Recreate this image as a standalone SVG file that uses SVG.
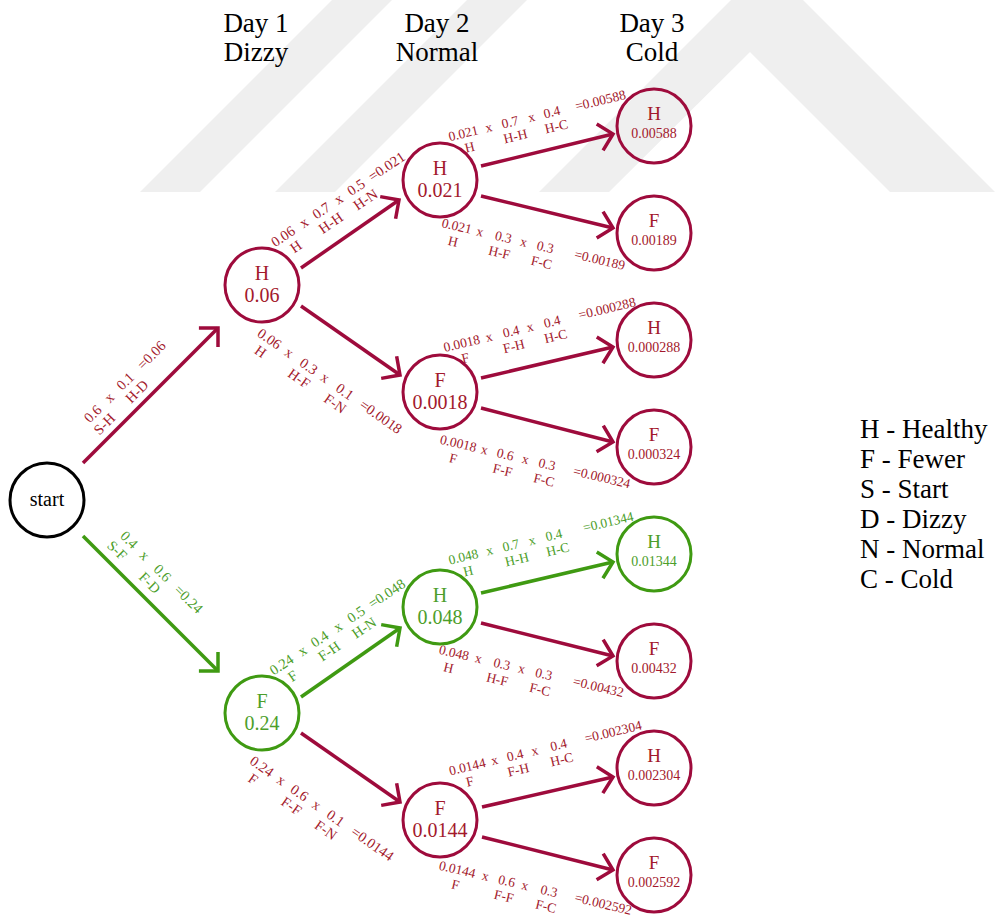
<svg xmlns="http://www.w3.org/2000/svg" width="995" height="916" viewBox="0 0 995 916">
<style>
text{font-family:"Liberation Serif","Times New Roman",serif}
.n{fill:none;stroke-width:3}
.nr{stroke:#9e0b3c}.ng{stroke:#3f9a12}.nk{stroke:#000}
.tr{fill:#a3192c}.tg{fill:#4c9e2a}
.big{font-size:20px;text-anchor:middle}
.l3{font-size:19px;text-anchor:middle}
.s3{font-size:14px;text-anchor:middle}
.hd{font-size:27px;text-anchor:middle;fill:#000}
.lg{font-size:27px;fill:#000}
.e{fill:none;stroke-width:3.5}
.er{stroke:#9e0b3c;marker-end:url(#mr)}
.eg{stroke:#3f9a12;marker-end:url(#mg)}
.a text{text-anchor:middle}
.f13{font-size:14.5px}.f12{font-size:13.5px}
.wm{fill:#efefef}
</style>
<defs>
<marker id="mr" viewBox="-16 -16 20 32" markerWidth="20" markerHeight="32" refX="0" refY="0" orient="auto" markerUnits="userSpaceOnUse" overflow="visible"><path d="M-13.5,-13.5 L0,0 L-13.5,13.5" fill="none" stroke="#9e0b3c" stroke-width="3.5"/></marker>
<marker id="mg" viewBox="-16 -16 20 32" markerWidth="20" markerHeight="32" refX="0" refY="0" orient="auto" markerUnits="userSpaceOnUse" overflow="visible"><path d="M-13.5,-13.5 L0,0 L-13.5,13.5" fill="none" stroke="#3f9a12" stroke-width="3.5"/></marker>
</defs>
<rect width="995" height="916" fill="#fff"/>
<g id="watermark">
<polygon class="wm" points="140,192 200,192 392,0 332,0"/>
<polygon class="wm" points="275,192 335,192 527,0 467,0"/>
<polygon class="wm" points="539,192 731,0 803,0 995,192 890,192 750,52 609,192"/>
</g>
<g id="headers">
<text class="hd" x="256" y="32">Day 1</text><text class="hd" x="256" y="61">Dizzy</text>
<text class="hd" x="437" y="32">Day 2</text><text class="hd" x="437" y="61">Normal</text>
<text class="hd" x="652" y="32">Day 3</text><text class="hd" x="652" y="61">Cold</text>
</g>
<g id="connectors">
<line class="e er" x1="83" y1="463" x2="218" y2="328"/>
<line class="e eg" x1="83" y1="536" x2="218" y2="671"/>
<line class="e er" x1="301" y1="268" x2="399" y2="200"/>
<line class="e er" x1="301" y1="306" x2="400" y2="375"/>
<line class="e eg" x1="301" y1="697" x2="400" y2="628"/>
<line class="e er" x1="301" y1="733" x2="400" y2="802"/>
<line class="e er" x1="481" y1="166" x2="613" y2="134"/>
<line class="e er" x1="481" y1="196" x2="613" y2="228"/>
<line class="e er" x1="481" y1="378" x2="613" y2="347"/>
<line class="e er" x1="481" y1="408" x2="613" y2="442"/>
<line class="e eg" x1="481" y1="593" x2="613" y2="562"/>
<line class="e er" x1="481" y1="623" x2="613" y2="656"/>
<line class="e er" x1="482" y1="807" x2="613" y2="777"/>
<line class="e er" x1="482" y1="837" x2="613" y2="870"/>
</g>
<g id="edge-labels">
<g class="a f13 tr" transform="translate(96.2,417.2) rotate(-45)"><text x="0">0.6</text><text x="23">x</text><text x="46">0.1</text><text x="83">=0.06</text><text x="1" y="15.5">S-H</text><text x="47" y="15.5">H-D</text></g>
<g class="a f13 tg" transform="translate(125.8,543.2) rotate(45)"><text x="0">0.4</text><text x="22">x</text><text x="47">0.6</text><text x="84">=0.24</text><text x="-1" y="16">S-F</text><text x="45" y="16">F-D</text></g>
<g class="a f13 tr" transform="translate(285.8,240.4) rotate(-34)"><text x="0">0.06</text><text x="25">x</text><text x="46">0.7</text><text x="67">x</text><text x="88">0.5</text><text x="125">=0.021</text><text x="5" y="15.5">H</text><text x="47" y="15.5">H-H</text><text x="89" y="15.5">H-N</text></g>
<g class="a f13 tr" transform="translate(266.7,342.7) rotate(35)"><text x="0">0.06</text><text x="24">x</text><text x="48">0.3</text><text x="68">x</text><text x="92">0.1</text><text x="136">=0.0018</text><text x="0" y="15.5">H</text><text x="47" y="15.5">H-F</text><text x="91" y="15.5">F-N</text></g>
<g class="a f13 tg" transform="translate(284.2,668.7) rotate(-34)"><text x="0">0.24</text><text x="25">x</text><text x="46">0.4</text><text x="68">x</text><text x="90">0.5</text><text x="127">=0.048</text><text x="3" y="15.5">F</text><text x="47" y="15.5">F-H</text><text x="89" y="15.5">H-N</text></g>
<g class="a f13 tr" transform="translate(259.1,770.4) rotate(35)"><text x="0">0.24</text><text x="24">x</text><text x="46">0.6</text><text x="67">x</text><text x="90">0.1</text><text x="135">=0.0144</text><text x="0" y="15.5">F</text><text x="47" y="15.5">F-F</text><text x="89" y="15.5">F-N</text></g>
<g class="a f12 tr" transform="translate(464.4,137.7) rotate(-13.5)"><text x="0">0.021</text><text x="26">x</text><text x="48">0.7</text><text x="70">x</text><text x="91">0.4</text><text x="141">=0.00588</text><text x="3" y="15">H</text><text x="50" y="15">H-H</text><text x="92" y="15">H-C</text></g>
<g class="a f12 tr" transform="translate(455.7,230.4) rotate(13.3)"><text x="0">0.021</text><text x="24">x</text><text x="48">0.3</text><text x="69">x</text><text x="91">0.3</text><text x="147">=0.00189</text><text x="0" y="16">H</text><text x="47.5" y="16">H-F</text><text x="91" y="16">F-C</text></g>
<g class="a f12 tr" transform="translate(462.8,347.7) rotate(-13.5)"><text x="0">0.0018</text><text x="28">x</text><text x="50.7">0.4</text><text x="70.3">x</text><text x="93">0.4</text><text x="149.5">=0.000288</text><text x="0" y="15">F</text><text x="50" y="15">F-H</text><text x="93" y="15">H-C</text></g>
<g class="a f12 tr" transform="translate(457.3,447.7) rotate(13.3)"><text x="0">0.0018</text><text x="27">x</text><text x="48.3">0.6</text><text x="69.1">x</text><text x="91.2">0.3</text><text x="147.5">=0.000324</text><text x="-1.4" y="16">F</text><text x="49.3" y="16">F-F</text><text x="91.8" y="16">F-C</text></g>
<g class="a f12 tg" transform="translate(464.4,561.1) rotate(-13.5)"><text x="0">0.048</text><text x="27">x</text><text x="48.9">0.7</text><text x="70.5">x</text><text x="93">0.4</text><text x="149">=0.01344</text><text x="1.3" y="15">H</text><text x="51.5" y="15">H-H</text><text x="93.4" y="15">H-C</text></g>
<g class="a f12 tr" transform="translate(453,657.1) rotate(13.3)"><text x="0">0.048</text><text x="25.1">x</text><text x="49.2">0.3</text><text x="69.7">x</text><text x="92.3">0.3</text><text x="148.4">=0.00432</text><text x="-1.9" y="16">H</text><text x="48.2" y="16">H-F</text><text x="92.1" y="16">F-C</text></g>
<g class="a f12 tr" transform="translate(468.4,771.1) rotate(-13.5)"><text x="0">0.0144</text><text x="28">x</text><text x="49.2">0.4</text><text x="69.4">x</text><text x="93.9">0.4</text><text x="150">=0.002304</text><text x="-1" y="15">F</text><text x="48.8" y="15">F-H</text><text x="93.4" y="15">H-C</text></g>
<g class="a f12 tr" transform="translate(456.3,873.7) rotate(13.3)"><text x="0">0.0144</text><text x="28.9">x</text><text x="50.8">0.6</text><text x="69.7">x</text><text x="94.3">0.3</text><text x="150">=0.002592</text><text x="1.6" y="15.5">F</text><text x="51.5" y="15.5">F-F</text><text x="94.7" y="15.5">F-C</text></g>
</g>
<g id="node-start"><circle class="n nk" cx="47" cy="500" r="37"/><text x="47" y="506" font-size="20" text-anchor="middle" fill="#000">start</text></g>
<g id="node-d1-H"><circle class="n nr" cx="262" cy="285" r="37"/><text class="big tr" x="262" y="279.5">H</text><text class="big tr" x="262" y="302">0.06</text></g>
<g id="node-d1-F"><circle class="n ng" cx="262" cy="713" r="37"/><text class="big tg" x="262" y="707.5">F</text><text class="big tg" x="262" y="730">0.24</text></g>
<g id="node-d2-HH"><circle class="n nr" cx="440" cy="180" r="37"/><text class="big tr" x="440" y="174.5">H</text><text class="big tr" x="440" y="197">0.021</text></g>
<g id="node-d2-HF"><circle class="n nr" cx="440" cy="392" r="37"/><text class="big tr" x="440" y="386.5">F</text><text class="big tr" x="440" y="409">0.0018</text></g>
<g id="node-d2-FH"><circle class="n ng" cx="440" cy="607" r="37"/><text class="big tg" x="440" y="601.5">H</text><text class="big tg" x="440" y="624">0.048</text></g>
<g id="node-d2-FF"><circle class="n nr" cx="440" cy="820" r="37"/><text class="big tr" x="440" y="814.5">F</text><text class="big tr" x="440" y="837">0.0144</text></g>
<g id="node-d3-1"><circle class="n nr" cx="654" cy="126" r="37"/><text class="l3 tr" x="654" y="120">H</text><text class="s3 tr" x="654" y="137.5">0.00588</text></g>
<g id="node-d3-2"><circle class="n nr" cx="654" cy="233" r="37"/><text class="l3 tr" x="654" y="227">F</text><text class="s3 tr" x="654" y="244.5">0.00189</text></g>
<g id="node-d3-3"><circle class="n nr" cx="654" cy="340" r="37"/><text class="l3 tr" x="654" y="334">H</text><text class="s3 tr" x="654" y="351.5">0.000288</text></g>
<g id="node-d3-4"><circle class="n nr" cx="654" cy="447" r="37"/><text class="l3 tr" x="654" y="441">F</text><text class="s3 tr" x="654" y="458.5">0.000324</text></g>
<g id="node-d3-5"><circle class="n ng" cx="654" cy="554" r="37"/><text class="l3 tg" x="654" y="548">H</text><text class="s3 tg" x="654" y="565.5">0.01344</text></g>
<g id="node-d3-6"><circle class="n nr" cx="654" cy="661" r="37"/><text class="l3 tr" x="654" y="655">F</text><text class="s3 tr" x="654" y="672.5">0.00432</text></g>
<g id="node-d3-7"><circle class="n nr" cx="654" cy="768" r="37"/><text class="l3 tr" x="654" y="762">H</text><text class="s3 tr" x="654" y="779.5">0.002304</text></g>
<g id="node-d3-8"><circle class="n nr" cx="654" cy="875" r="37"/><text class="l3 tr" x="654" y="869">F</text><text class="s3 tr" x="654" y="886.5">0.002592</text></g>
<g id="legend">
<text class="lg" x="860" y="438">H - Healthy</text>
<text class="lg" x="860" y="468">F - Fewer</text>
<text class="lg" x="860" y="498">S - Start</text>
<text class="lg" x="860" y="528">D - Dizzy</text>
<text class="lg" x="860" y="558">N - Normal</text>
<text class="lg" x="860" y="588">C - Cold</text>
</g>
</svg>
